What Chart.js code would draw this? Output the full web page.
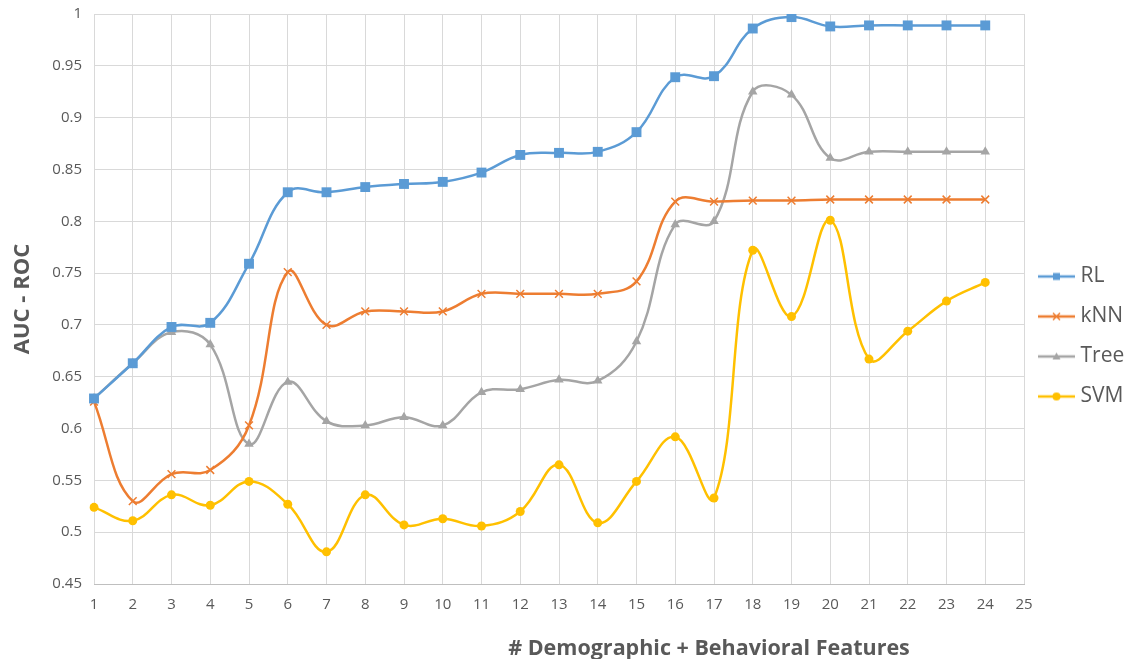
<!DOCTYPE html>
<html>
<head>
<meta charset="utf-8">
<script src="https://cdn.jsdelivr.net/npm/chart.js@4.4.1/dist/chart.umd.min.js"></script>
<style>
  html, body { margin: 0; padding: 0; background: #fff; }
  #wrap { position: relative; width: 1131px; height: 659px; }
  #xTitle {
    position: absolute; left: 709px; top: 632px; transform: translateX(-50%);
    font: bold 21.5px 'Open Sans', sans-serif; color: #595959; white-space: nowrap;
  }
</style>
</head>
<body>
<div id="wrap">
  <canvas id="chart" width="1131" height="659"></canvas>
  <div id="xTitle"># Demographic + Behavioral Features</div>
</div>
<script>
// number of features on the x axis (25 has no data)
const featureCounts = ['1', '2', '3', '4', '5', '6', '7', '8', '9', '10', '11', '12', '13',
                       '14', '15', '16', '17', '18', '19', '20', '21', '22', '23', '24', '25'];

// AUC - ROC values
const rlValues   = [0.629, 0.663, 0.698, 0.702, 0.759, 0.828, 0.828, 0.833, 0.836, 0.838, 0.847, 0.864,
                    0.866, 0.867, 0.886, 0.939, 0.940, 0.986, 0.997, 0.988, 0.989, 0.989, 0.989, 0.989];
const knnValues  = [0.626, 0.530, 0.556, 0.560, 0.603, 0.751, 0.700, 0.713, 0.713, 0.713, 0.730, 0.730,
                    0.730, 0.730, 0.742, 0.819, 0.819, 0.820, 0.820, 0.821, 0.821, 0.821, 0.821, 0.821];
const treeValues = [0.629, 0.663, 0.693, 0.681, 0.585, 0.645, 0.607, 0.603, 0.611, 0.603, 0.635, 0.638,
                    0.647, 0.646, 0.684, 0.797, 0.800, 0.925, 0.922, 0.861, 0.867, 0.867, 0.867, 0.867];
const svmValues  = [0.524, 0.511, 0.536, 0.526, 0.549, 0.527, 0.481, 0.536, 0.507, 0.513, 0.506, 0.520,
                    0.565, 0.509, 0.549, 0.592, 0.533, 0.772, 0.708, 0.801, 0.667, 0.694, 0.723, 0.741];

const seriesNames = ['RL', 'kNN', 'Tree', 'SVM'];
const seriesColors = ['#5B9BD5', '#ED7D31', '#A5A5A5', '#FFC000'];

const textColor = '#595959';
const gridColor = '#D9D9D9';

// Small line+marker icon for the legend, like the Excel one
function legendIcon(color, kind) {
    const c = document.createElement('canvas');
    c.width = 37;
    c.height = 14;
    const ctx = c.getContext('2d');
    const cx = 18.5, cy = 7;
    ctx.strokeStyle = color;
    ctx.fillStyle = color;
    ctx.lineWidth = 2.5;
    ctx.beginPath();
    ctx.moveTo(0, cy);
    ctx.lineTo(37, cy);
    ctx.stroke();
    ctx.beginPath();
    if (kind === 'rect') {
        ctx.fillRect(cx - 3.5, cy - 3.5, 7, 7);
    } else if (kind === 'cross') {
        ctx.lineWidth = 1.5;
        ctx.moveTo(cx - 3.5, cy - 3.5); ctx.lineTo(cx + 3.5, cy + 3.5);
        ctx.moveTo(cx + 3.5, cy - 3.5); ctx.lineTo(cx - 3.5, cy + 3.5);
        ctx.stroke();
    } else if (kind === 'triangle') {
        ctx.moveTo(cx, cy - 4); ctx.lineTo(cx + 4, cy + 3); ctx.lineTo(cx - 4, cy + 3);
        ctx.closePath();
        ctx.fill();
    } else {
        ctx.arc(cx, cy, 4, 0, Math.PI * 2);
        ctx.fill();
    }
    return c;
}

const legendIcons = [
    legendIcon(seriesColors[0], 'rect'),
    legendIcon(seriesColors[1], 'cross'),
    legendIcon(seriesColors[2], 'triangle'),
    legendIcon(seriesColors[3], 'circle')
];

function makeSeries(i, values, pointStyle, radius, pointBorder) {
    return {
        label: seriesNames[i],
        data: values,
        borderColor: seriesColors[i],
        backgroundColor: seriesColors[i],
        pointBackgroundColor: seriesColors[i],
        pointBorderColor: seriesColors[i],
        pointBorderWidth: pointBorder,
        borderWidth: 2.5,
        pointStyle: pointStyle,
        pointRadius: radius,
        tension: 0.4,
        fill: false
    };
}

const ctx = document.getElementById('chart').getContext('2d');
const chart = new Chart(ctx, {
    type: 'line',
    data: {
        labels: featureCounts,
        datasets: [
            makeSeries(0, rlValues, 'rect', 7, 0),
            makeSeries(1, knnValues, 'crossRot', 5.5, 1.5),
            makeSeries(2, treeValues, 'triangle', 5.5, 0),
            makeSeries(3, svmValues, 'circle', 4.5, 0)
        ]
    },
    options: {
        responsive: false,
        animation: false,
        layout: { padding: { top: 14, right: 0, bottom: 0, left: 0 } },
        plugins: {
            tooltip: { enabled: false },
            legend: {
                position: 'right',
                maxWidth: 107,
                labels: {
                    usePointStyle: true,
                    pointStyleWidth: 27,
                    color: textColor,
                    padding: 19,
                    font: { family: 'Open Sans', size: 21 },
                    generateLabels: chart => chart.data.datasets.map((ds, i) => ({
                        text: ds.label,
                        pointStyle: legendIcons[i],
                        fillStyle: ds.borderColor,
                        strokeStyle: ds.borderColor,
                        lineWidth: 0,
                        fontColor: textColor,
                        hidden: false,
                        datasetIndex: i
                    }))
                }
            }
        },
        scales: {
            x: {
                offset: false,
                grid: { color: gridColor, drawTicks: false, offset: false },
                border: { color: '#BFBFBF' },
                ticks: {
                    color: textColor,
                    padding: 12,
                    maxRotation: 0,
                    autoSkip: false,
                    font: { family: 'Open Sans', size: 15 }
                },
                afterFit: scale => { scale.height = 75; }
            },
            y: {
                min: 0.45,
                max: 1,
                grid: { color: gridColor, drawTicks: false },
                border: { display: false },
                ticks: {
                    stepSize: 0.05,
                    color: textColor,
                    padding: 12,
                    font: { family: 'Open Sans', size: 15 },
                    callback: v => String(+v.toFixed(2))
                },
                title: {
                    display: true,
                    text: 'AUC - ROC',
                    color: textColor,
                    padding: { top: 10, bottom: 0 },
                    font: { family: 'Open Sans', size: 22, weight: 'bold' }
                },
                afterFit: scale => {
                    scale.width = 94;
                    // let the top label sit in the layout padding
                    scale.paddingTop = 0;
                    scale.paddingBottom = 0;
                }
            }
        }
    }
});
</script>
</body>
</html>
